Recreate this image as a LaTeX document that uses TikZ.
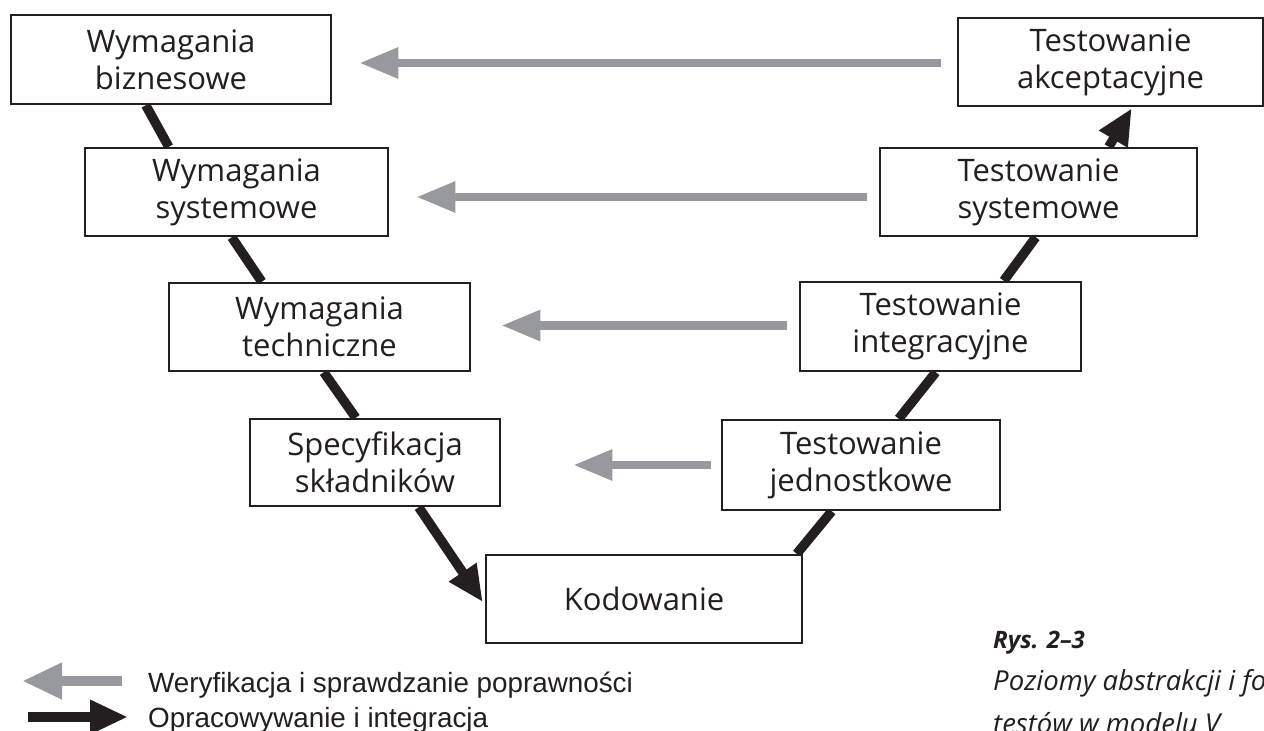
\documentclass[tikz,border=0pt]{standalone}
\usepackage{fontspec}
\setmainfont{Open Sans}
\newfontfamily\legendfont{Liberation Sans}
\usetikzlibrary{arrows.meta,calc,backgrounds}
\definecolor{verif}{RGB}{152,153,158}
\definecolor{ink}{RGB}{35,31,32}

\begin{document}
\begin{tikzpicture}[x=1pt,y=-1pt,
  box/.style={draw=ink, line width=2.5pt, fill=white, align=center,
    inner sep=0pt, text=ink, font=\fontsize{31}{37}\selectfont},
  devline/.style={draw=ink, line width=9.5pt},
  devarrow/.style={draw=ink, line width=9.5pt, -{Triangle[length=36pt,width=31pt]}},
  verarrow/.style={draw=verif, line width=8.5pt, -{Triangle[length=39pt,width=29pt]}},
  legend/.style={anchor=base west, inner sep=0pt, text=ink, font=\legendfont\fontsize{27.8}{32}\selectfont},
  caption/.style={anchor=base west, inner sep=0pt, text=ink, font=\fontsize{27.5}{32}\selectfont\itshape},
]
\clip (0,0) rectangle (1264,731);

% left branch: requirements
\node[box, minimum width=320pt, minimum height=89pt] (b1) at (171,59.5) {Wymagania\\biznesowe};
\node[box, minimum width=303pt, minimum height=88pt] (b2) at (236.5,192) {Wymagania\\systemowe};
\node[box, minimum width=301pt, minimum height=88pt] (b3) at (319.5,327) {Wymagania\\techniczne};
\node[box, minimum width=250pt, minimum height=87pt] (b4) at (375,462.5) {Specyfikacja\\składników};
% bottom of the V
\node[box, minimum width=316pt, minimum height=88pt] (b5) at (644,599) {Kodowanie};
% right branch: testing
\node[box, minimum width=278pt, minimum height=90pt] (b6) at (861,465) {Testowanie\\jednostkowe};
\node[box, minimum width=281pt, minimum height=89pt] (b7) at (940.5,326.5) {Testowanie\\integracyjne};
\node[box, minimum width=317pt, minimum height=88pt] (b8) at (1038.5,192) {Testowanie\\systemowe};
\node[box, minimum width=305pt, minimum height=88pt] (b9) at (1110.5,62) {Testowanie\\akceptacyjne};

\begin{scope}[on background layer]
  \fill[white] (0,0) rectangle (1264,731);
  % development path down and up the V
  \draw[devline] ($(b1.south west)+(136,0)$) -- ($(b2.north west)+(85,0)$);
  \draw[devline] ($(b2.south west)+(148,0)$) -- ($(b3.north west)+(94,0)$);
  \draw[devline] ($(b3.south west)+(156,0)$) -- ($(b4.north west)+(107,0)$);
  \draw[devarrow] ($(b4.south west)+(170,0)$) -- ($(b5.west)+(-2,3)$);
  \draw[devline] ($(b5.north west)+(312,0)$) -- ($(b6.south west)+(111,0)$);
  \draw[devline] ($(b6.north west)+(178,0)$) -- ($(b7.south west)+(137,0)$);
  \draw[devline] ($(b7.north west)+(205,0)$) -- ($(b8.south west)+(157,0)$);
  \draw[devarrow] ($(b8.north west)+(230,0)$) -- ($(b9.south west)+(175,1)$);
\end{scope}

% verification arrows
\draw[verarrow] ($(b9.west)+(-16,1)$) -- ($(b1.east |- b9.west)+(27,1)$);
\draw[verarrow] ($(b8.west)+(-12,5)$) -- ($(b2.east |- b8.west)+(27,5)$);
\draw[verarrow] ($(b7.west)+(-12,-1)$) -- ($(b3.east |- b7.west)+(30,-1)$);
\draw[verarrow] ($(b6.west)+(-10,0)$) -- ($(b4.east |- b6.west)+(72,0)$);

% legend
\coordinate (vs) at (122,681);
\coordinate (ve) at (22,681);
\coordinate (ds) at (28,717);
\coordinate (de) at (128,717);
\draw[verarrow, line width=10pt, -{Triangle[length=40pt,width=34pt]}] (vs) -- (ve);
\draw[devarrow, line width=10pt, -{Triangle[length=38pt,width=32pt]}] (ds) -- (de);
\node[legend] (l1) at (148,692) {Weryfikacja i sprawdzanie poprawności};
\node[legend] (l2) at (148,727) {Opracowywanie i integracja};

% figure caption
\node[caption, font=\fontsize{24}{30}\selectfont\bfseries\itshape] (c1) at (993,648) {Rys. 2–3};
\node[caption] (c2) at (993,690) {Poziomy abstrakcji i fo};
\node[caption] (c3) at (993,733) {testów w modelu V};
\end{tikzpicture}
\end{document}
